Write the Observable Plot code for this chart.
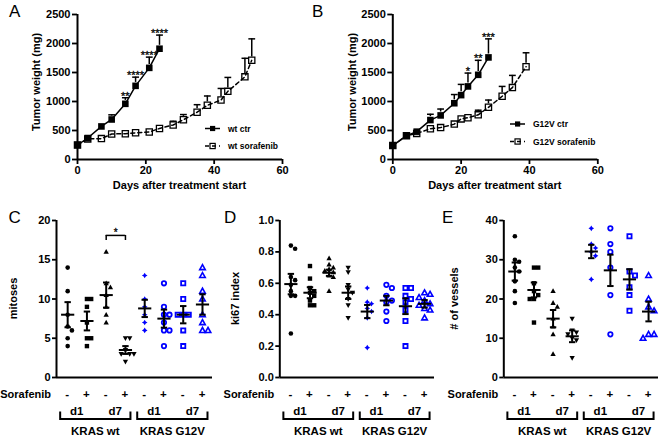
<!DOCTYPE html>
<html>
<head>
<meta charset="utf-8">
<script src="https://cdn.jsdelivr.net/npm/d3@7"></script>
<script src="https://cdn.jsdelivr.net/npm/@observablehq/plot@0.6"></script>
<style>
  html, body { margin: 0; padding: 0; background: #fff; }
  #fig { position: relative; width: 660px; height: 436px; overflow: hidden; background: #fff; }
  .panel { position: absolute; }
  .panel svg { overflow: visible; }
  svg [aria-label$="-axis tick"], svg [aria-label$="-axis tick"] path { stroke-width: 1.8px; }
  #overlay { position: absolute; left: 0; top: 0; pointer-events: none; }
</style>
</head>
<body>
<div id="fig"></div>
<script>
const FONT = "'Liberation Sans', Arial, Helvetica, sans-serif";

// ---------------- Panel A: KRAS wt tumour growth ----------------
const aCtrDays   = [0, 3, 7, 10, 14, 17, 21, 24];
const aCtrWeight = [250, 370, 570, 690, 960, 1270, 1580, 1910];
const aCtrErr    = [0, 20, 60, 80, 105, 150, 185, 235];
const aSorDays   = [0, 3, 7, 10, 14, 17, 21, 24, 28, 31, 35, 38, 42, 44, 49, 51];
const aSorWeight = [250, 355, 360, 440, 445, 460, 475, 535, 595, 685, 815, 935, 1025, 1175, 1425, 1710];
const aSorErr    = [0, 15, 15, 20, 20, 20, 20, 55, 65, 90, 130, 160, 200, 240, 320, 370];
const aStarDays  = [14, 17, 21, 24];
const aStars     = ["**", "****", "****", "****"];
const aLegend    = ["wt ctr", "wt sorafenib"];

// ---------------- Panel B: KRAS G12V tumour growth ----------------
const bCtrDays   = [0, 4, 7, 11, 14, 18, 20, 22, 25, 28];
const bCtrWeight = [240, 410, 480, 680, 760, 970, 1110, 1260, 1460, 1760];
const bCtrErr    = [0, 20, 55, 100, 110, 150, 185, 230, 250, 320];
const bSorDays   = [0, 4, 7, 11, 14, 18, 20, 22, 25, 28, 32, 35, 39];
const bSorWeight = [240, 410, 450, 530, 550, 610, 700, 720, 770, 900, 1090, 1240, 1600];
const bSorErr    = [0, 20, 30, 20, 20, 25, 30, 40, 80, 125, 170, 210, 240];
const bStarDays  = [22, 25, 28];
const bStars     = ["*", "**", "***"];
const bLegend    = ["G12V ctr", "G12V sorafenib"];

const weightTicks = [0, 500, 1000, 1500, 2000, 2500];
const dayTicks = [0, 20, 40, 60];

// ---------------- Panels C–E: groups ----------------
const groups = ["wt d1 -", "wt d1 +", "wt d7 -", "wt d7 +", "G12V d1 -", "G12V d1 +", "G12V d7 -", "G12V d7 +"];
const sorafenibSigns = ["-", "+", "-", "+", "-", "+", "-", "+"];
const dayLabels = ["d1", "d7", "d1", "d7"];
const krasLabels = ["KRAS wt", "KRAS G12V"];

// C: mitoses
const mitoses = [
  [14, 11, 8, 6.5, 6, 5, 4],
  [10, 10, 9, 7, 5, 5, 4],
  [16, 12, 11.5, 10.5, 9, 8, 7],
  [5, 5, 3.5, 3, 3, 3, 2],
  [13, 10, 9, 8, 7, 6],
  [12, 9, 8, 8, 7, 6, 6, 4],
  [12, 10, 8, 8, 8, 6, 4],
  [14, 13, 11, 10, 8, 7, 6, 6]
];
const mitosesMean = [8.0, 7.2, 10.5, 3.5, 8.8, 7.5, 8.0, 9.3];
const mitosesSem  = [1.6, 1.2, 1.6, 0.5, 1.1, 1.15, 1.1, 1.3];
const mitosesTicks = [0, 5, 10, 15, 20];
const mitosesSig = {from: 2, to: 3, y: 18.1, tick: 0.65, label: "*"};

// D: ki67 index
const ki67 = [
  [0.84, 0.82, 0.64, 0.62, 0.59, 0.55, 0.52, 0.52, 0.28],
  [0.71, 0.63, 0.57, 0.55, 0.54, 0.52, 0.49, 0.46, 0.46],
  [0.76, 0.72, 0.70, 0.69, 0.68, 0.67, 0.65, 0.64, 0.55],
  [0.70, 0.67, 0.59, 0.56, 0.54, 0.50, 0.46, 0.38],
  [0.57, 0.48, 0.47, 0.44, 0.42, 0.38, 0.19],
  [0.59, 0.57, 0.52, 0.49, 0.48, 0.42, 0.36],
  [0.57, 0.57, 0.52, 0.50, 0.48, 0.43, 0.36, 0.20],
  [0.54, 0.53, 0.51, 0.49, 0.47, 0.46, 0.44, 0.43, 0.38]
];
const ki67Mean = [0.595, 0.54, 0.667, 0.54, 0.42, 0.49, 0.454, 0.469];
const ki67Sem  = [0.065, 0.035, 0.02, 0.04, 0.042, 0.03, 0.05, 0.024];
const ki67Ticks = [0, 0.2, 0.4, 0.6, 0.8, 1.0];

// E: # of vessels
const vessels = [
  [36, 30, 29.5, 28, 27, 24.5, 22, 19],
  [28, 28, 24, 22, 21, 20, 20, 14],
  [22, 19, 18, 15, 13, 11, 6],
  [15, 12, 11.5, 11, 10, 9.5, 5],
  [38, 34, 33, 32, 31, 25],
  [38, 34, 32, 28, 21, 11],
  [36, 27, 26, 23, 21, 17],
  [26, 20, 18, 17, 11, 11, 10]
];
const vesselsMean = [27.0, 22.3, 15.0, 10.5, 32.1, 27.3, 25.0, 16.8];
const vesselsSem  = [2.3, 1.9, 2.2, 1.5, 1.7, 4.0, 2.6, 2.5];
const vesselsTicks = [0, 10, 20, 30, 40];

// ---------------- symbols ----------------
const rad = s => Math.sqrt(s / Math.PI);
const hline = {draw(c, s) { const r = rad(s); c.moveTo(-r, 0); c.lineTo(r, 0); }};
const sq = {draw(c, s) { const r = rad(s); c.moveTo(-r, -r); c.lineTo(r, -r); c.lineTo(r, r); c.lineTo(-r, r); c.closePath(); }};
const triUp = {draw(c, s) { const r = rad(s); c.moveTo(0, -r); c.lineTo(0.95 * r, 0.7 * r); c.lineTo(-0.95 * r, 0.7 * r); c.closePath(); }};
const triDown = {draw(c, s) { const r = rad(s); c.moveTo(0, r); c.lineTo(0.95 * r, -0.7 * r); c.lineTo(-0.95 * r, -0.7 * r); c.closePath(); }};
const star4 = {draw(c, s) { const r = rad(s), k = r * 0.38;
  c.moveTo(0, -r); c.lineTo(k, -k); c.lineTo(r, 0); c.lineTo(k, k); c.lineTo(0, r); c.lineTo(-k, k); c.lineTo(-r, 0); c.lineTo(-k, -k); c.closePath(); }};

const BLUE = "#0000ff";
const groupStyle = [
  {symbol: "circle", r: 2.3, fill: "black", stroke: "none", sw: 0, diam: 5},
  {symbol: sq, r: 2.2, fill: "black", stroke: "none", sw: 0, diam: 5},
  {symbol: triUp, r: 2.8, fill: "black", stroke: "none", sw: 0, diam: 5},
  {symbol: triDown, r: 2.8, fill: "black", stroke: "none", sw: 0, diam: 5},
  {symbol: star4, r: 2.8, fill: BLUE, stroke: "none", sw: 0, diam: 5},
  {symbol: "circle", r: 2.2, fill: "none", stroke: BLUE, sw: 1.8, diam: 6.5},
  {symbol: sq, r: 2.1, fill: "none", stroke: BLUE, sw: 1.8, diam: 6.5},
  {symbol: triUp, r: 2.9, fill: "none", stroke: BLUE, sw: 1.6, diam: 6.5}
];

const fig = document.getElementById("fig");
function addPanel(el, left, top) {
  const d = document.createElement("div");
  d.className = "panel"; d.style.left = left + "px"; d.style.top = top + "px";
  d.appendChild(el); fig.appendChild(d); return el;
}

// ---------------- growth panels ----------------
function growthPanel({left, marginLeft, marginRight, ctrDays, ctrW, ctrE, sorDays, sorW, sorE, starDays, stars, legend, legendX, legendY}) {
  const W = 330, H = 200, mt = 14, mb = 41;
  const pxPerW = (H - mt - mb) / 2500;
  const ctr = ctrDays.map((d, i) => ({d, w: ctrW[i], top: ctrW[i] + ctrE[i], e: ctrE[i]}));
  const sor = sorDays.map((d, i) => ({d, w: sorW[i], top: sorW[i] + sorE[i], e: sorE[i]}));
  const ctrBars = ctr.filter(p => p.e * pxPerW > 3.6);
  const sorBars = sor.filter(p => p.e * pxPerW > 3.6);
  const starData = starDays.map((d, i) => { const p = ctr.find(c => c.d === d); return {d, y: p.top, s: stars[i]}; });
  const plot = Plot.plot({
    width: W, height: H, marginLeft, marginRight, marginTop: mt, marginBottom: mb,
    style: {fontFamily: FONT, fontSize: "11px", fontWeight: "bold", color: "black", background: "transparent"},
    x: {domain: [0, 60], ticks: dayTicks, tickSize: 5, tickPadding: 2, tickFormat: d3.format("d"), label: null},
    y: {domain: [0, 2500], ticks: weightTicks, tickSize: 5, tickPadding: 2, tickFormat: d3.format("d"), label: null},
    marks: [
      Plot.ruleY([0], {stroke: "black", strokeWidth: 2}),
      Plot.ruleX([0], {stroke: "black", strokeWidth: 2}),
      Plot.line(sor, {x: "d", y: "w", stroke: "black", strokeWidth: 1.5, strokeDasharray: "4,3"}),
      Plot.line(ctr, {x: "d", y: "w", stroke: "black", strokeWidth: 1.5}),
      Plot.ruleX(sorBars, {x: "d", y1: "top", y2: "w", stroke: "black", strokeWidth: 1.5, insetBottom: 3.4}),
      Plot.dot(sorBars, {x: "d", y: "top", symbol: hline, r: 3.4, stroke: "black", fill: "none", strokeWidth: 1.5}),
      Plot.ruleX(ctrBars, {x: "d", y1: "top", y2: "w", stroke: "black", strokeWidth: 1.5, insetBottom: 3.4}),
      Plot.dot(ctrBars, {x: "d", y: "top", symbol: hline, r: 3.4, stroke: "black", fill: "none", strokeWidth: 1.5}),
      Plot.dot(sor, {x: "d", y: "w", symbol: sq, r: 3.1, fill: "none", stroke: "black", strokeWidth: 1.3}),
      Plot.dot(ctr, {x: "d", y: "w", symbol: sq, r: 3.3, fill: "black", stroke: "none"}),
      Plot.text(starData, {x: "d", y: "y", text: "s", lineAnchor: "bottom", dy: 2, fontSize: 11, fontWeight: "normal", fill: "black", stroke: "black", strokeWidth: 0.3})
    ]
  });
  addPanel(plot, left, 0);
  const svg = d3.select(plot);
  const fl = marginLeft, fr = W - marginRight, ft = mt, fb = H - mb;
  // axis labels
  svg.append("text").attr("x", (fl + fr) / 2).attr("y", fb + 29.5).attr("text-anchor", "middle")
    .attr("font-family", FONT).attr("font-weight", "bold").attr("font-size", 11).attr("fill", "black")
    .text("Days after treatment start");
  svg.append("text").attr("transform", `translate(${fl - 40.5},${82}) rotate(-90)`).attr("text-anchor", "middle").attr("dy", "0.35em")
    .attr("font-family", FONT).attr("font-weight", "bold").attr("font-size", 11).attr("fill", "black")
    .text("Tumor weight (mg)");
  // legend
  const lg = svg.append("g").attr("font-family", FONT).attr("font-weight", "bold").attr("font-size", 8.5).attr("fill", "black").attr("text-anchor", "start");
  const [lx, ly] = [legendX, legendY];
  lg.append("line").attr("x1", lx).attr("x2", lx + 15).attr("y1", ly).attr("y2", ly).attr("stroke", "black").attr("stroke-width", 1.5);
  lg.append("rect").attr("x", lx + 5).attr("y", ly - 2.6).attr("width", 5.2).attr("height", 5.2).attr("fill", "black");
  lg.append("text").attr("x", lx + 23).attr("y", ly + 3).text(legend[0]);
  const ly2 = ly + 17.5;
  lg.append("line").attr("x1", lx).attr("x2", lx + 15).attr("y1", ly2).attr("y2", ly2).attr("stroke", "black").attr("stroke-width", 1.5).attr("stroke-dasharray", "4,3");
  lg.append("rect").attr("x", lx + 5).attr("y", ly2 - 2.6).attr("width", 5.2).attr("height", 5.2).attr("fill", "none").attr("stroke", "black").attr("stroke-width", 1.2);
  lg.append("text").attr("x", lx + 23).attr("y", ly2 + 3).text(legend[1]);
}

growthPanel({left: 0, marginLeft: 77, marginRight: 48,
  ctrDays: aCtrDays, ctrW: aCtrWeight, ctrE: aCtrErr, sorDays: aSorDays, sorW: aSorWeight, sorE: aSorErr,
  starDays: aStarDays, stars: aStars, legend: aLegend, legendX: 205, legendY: 128.5});
growthPanel({left: 330, marginLeft: 62.3, marginRight: 62.7,
  ctrDays: bCtrDays, ctrW: bCtrWeight, ctrE: bCtrErr, sorDays: bSorDays, sorW: bSorWeight, sorE: bSorErr,
  starDays: bStarDays, stars: bStars, legend: bLegend, legendX: 180, legendY: 124});

// ---------------- scatter panels ----------------
function dodge(values, pxPerY, diam) {
  const placed = [];
  return values.map(v => {
    const y = v * pxPerY;
    for (let k = 0; k < 20; k++) {
      const cands = k === 0 ? [0] : [k * diam * 0.85, -k * diam * 0.85];
      for (const o of cands) {
        if (placed.every(p => Math.hypot(p.o - o, p.y - y) >= diam * 0.85)) { placed.push({o, y}); return o; }
      }
    }
    return 0;
  });
}

function scatterPanel({left, marginLeft, marginRight, values, means, sems, yDomain, yTicks, tickFormat, yLabel, labelOffset, sig}) {
  const W = 220, H = 231, mt = 15, mb = 59;
  const xDomain = [-0.58, 7.52];
  const frameW = W - marginLeft - marginRight, frameH = H - mt - mb;
  const pxX = frameW / (xDomain[1] - xDomain[0]);
  const pxY = frameH / (yDomain[1] - yDomain[0]);
  const marks = [
    Plot.ruleY([yDomain[0]], {stroke: "black", strokeWidth: 2}),
    Plot.ruleX([xDomain[0]], {stroke: "black", strokeWidth: 2})
  ];
  values.forEach((vals, g) => {
    const st = groupStyle[g];
    const offs = dodge(vals, pxY, st.diam);
    const pts = vals.map((v, i) => ({x: g + offs[i] / pxX, y: v}));
    marks.push(Plot.dot(pts, {x: "x", y: "y", symbol: st.symbol, r: st.r, fill: st.fill, stroke: st.stroke, strokeWidth: st.sw}));
  });
  const stats = means.map((m, g) => ({g, m, lo: m - sems[g], hi: m + sems[g]}));
  marks.push(
    Plot.ruleX(stats, {x: "g", y1: "lo", y2: "hi", stroke: "black", strokeWidth: 2}),
    Plot.dot(stats, {x: "g", y: "m", symbol: hline, r: 6.6, stroke: "black", fill: "none", strokeWidth: 2}),
    Plot.dot(stats, {x: "g", y: "lo", symbol: hline, r: 3.2, stroke: "black", fill: "none", strokeWidth: 2}),
    Plot.dot(stats, {x: "g", y: "hi", symbol: hline, r: 3.2, stroke: "black", fill: "none", strokeWidth: 2})
  );
  if (sig) {
    const br = [{x1: sig.from, x2: sig.to, y: sig.y}];
    marks.push(
      Plot.ruleY(br, {x1: "x1", x2: "x2", y: "y", stroke: "black", strokeWidth: 1.5}),
      Plot.ruleX([sig.from, sig.to], {x: d => d, y1: sig.y - sig.tick, y2: sig.y, stroke: "black", strokeWidth: 1.5}),
      Plot.text([sig], {x: (sig.from + sig.to) / 2, y: sig.y, text: "label", lineAnchor: "bottom", dy: 1, fontSize: 10, fontWeight: "normal", fill: "black", stroke: "black", strokeWidth: 0.3})
    );
  }
  const plot = Plot.plot({
    width: W, height: H, marginLeft, marginRight, marginTop: mt, marginBottom: mb,
    style: {fontFamily: FONT, fontSize: "11px", fontWeight: "bold", color: "black", background: "transparent"},
    x: {domain: xDomain, axis: null},
    y: {domain: yDomain, ticks: yTicks, tickSize: 4, tickPadding: 2, tickFormat, label: null},
    marks
  });
  addPanel(plot, left, 205);
  const sx = plot.scale("x");
  const svg = d3.select(plot);
  const fl = marginLeft, fb = H - mb;
  const g = svg.append("g").attr("font-family", FONT).attr("font-weight", "bold").attr("font-size", 11.5).attr("fill", "black");
  g.append("text").attr("x", fl - 5).attr("y", fb + 21).attr("text-anchor", "end").attr("font-size", 11).text("Sorafenib");
  sorafenibSigns.forEach((s, i) => g.append("text").attr("x", sx.apply(i)).attr("y", fb + 20.5).attr("text-anchor", "middle").text(s));
  dayLabels.forEach((d, k) => {
    g.append("text").attr("x", (sx.apply(2 * k) + sx.apply(2 * k + 1)) / 2).attr("y", fb + 38).attr("text-anchor", "middle").text(d);
  });
  krasLabels.forEach((lab, k) => {
    const x0 = sx.apply(4 * k) - 7, x1 = sx.apply(4 * k + 3) + 5.5;
    g.append("path").attr("d", `M${x0},${fb + 34.5}V${fb + 42}H${x1}V${fb + 34.5}`).attr("fill", "none").attr("stroke", "black").attr("stroke-width", 2);
    g.append("text").attr("x", (x0 + x1) / 2).attr("y", fb + 58).attr("text-anchor", "middle").text(lab);
  });
  svg.append("text").attr("transform", `translate(${fl - labelOffset},${(mt + fb) / 2}) rotate(-90)`).attr("text-anchor", "middle").attr("dy", "0.35em")
    .attr("font-family", FONT).attr("font-weight", "bold").attr("font-size", 11).attr("fill", "black").text(yLabel);
}

scatterPanel({left: 0, marginLeft: 56, marginRight: 8, values: mitoses, means: mitosesMean, sems: mitosesSem,
  yDomain: [0, 20], yTicks: mitosesTicks, tickFormat: d3.format("d"), yLabel: "mitoses", labelOffset: 42.5, sig: mitosesSig});
scatterPanel({left: 220, marginLeft: 59.3, marginRight: 6, values: ki67, means: ki67Mean, sems: ki67Sem,
  yDomain: [0, 1], yTicks: ki67Ticks, tickFormat: d3.format(".1f"), yLabel: "ki67 index", labelOffset: 44.5});
scatterPanel({left: 440, marginLeft: 63.3, marginRight: 2, values: vessels, means: vesselsMean, sems: vesselsSem,
  yDomain: [0, 40], yTicks: vesselsTicks, tickFormat: d3.format("d"), yLabel: "# of vessels", labelOffset: 49});

// ---------------- panel letters ----------------
const letters = [["A", 9, 17.3], ["B", 312, 17.3], ["C", 8.5, 223], ["D", 224, 223], ["E", 442, 223]];
const ov = d3.select(fig).append("svg").attr("id", "overlay").attr("width", 660).attr("height", 436);
letters.forEach(([t, x, y]) => ov.append("text").attr("x", x).attr("y", y).attr("font-family", FONT).attr("font-size", 17).attr("fill", "black").text(t));
</script>
</body>
</html>
